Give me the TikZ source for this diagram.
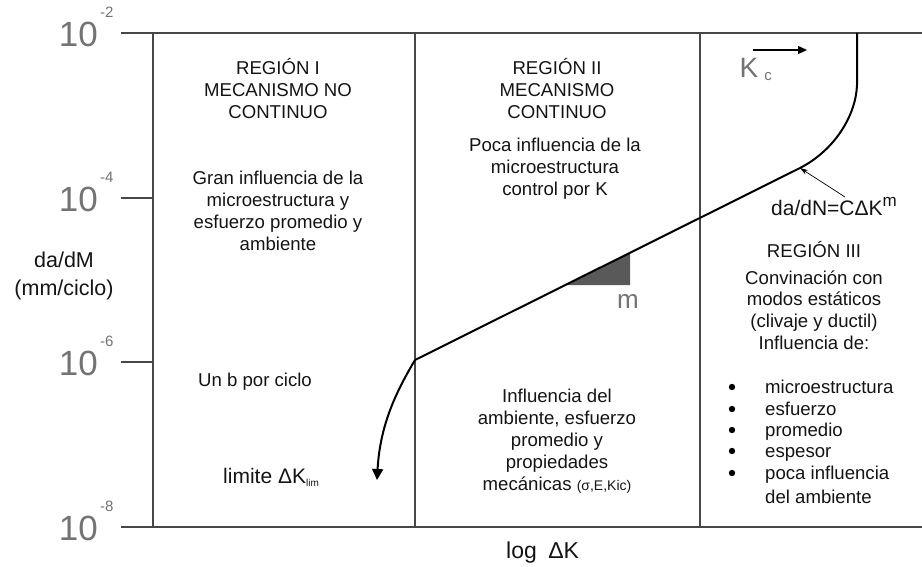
\documentclass[tikz,border=0pt]{standalone}
\usepackage{fontspec}
\setmainfont{Liberation Sans}
\usetikzlibrary{arrows.meta}
\begin{document}
\begin{tikzpicture}[x=1pt,y=-1pt,line join=round,
  frame/.style={draw=black!72,line width=1.4pt},
  curve/.style={draw=black,line width=2pt},
  txt/.style={font=\fontsize{18.6}{22}\selectfont,text=black!92,align=center,inner sep=0pt},
  ax/.style={font=\fontsize{35}{35}\selectfont,text=black!55,inner sep=0pt},
  axexp/.style={font=\fontsize{15}{15}\selectfont,text=black!55,inner sep=0pt},
  item/.style={font=\fontsize{18.6}{22}\selectfont,text=black!92,anchor=base west,inner sep=0pt}]
\useasboundingbox (0,0) rectangle (922,567);
% frame
\draw[frame] (121,33) -- (922,33);
\draw[frame] (121,527) -- (922,527);
\draw[frame] (153,33) -- (153,527);
\draw[frame] (121,198) -- (153,198);
\draw[frame] (121,362) -- (153,362);
\draw[frame] (415,33) -- (415,527);
\draw[frame] (700,33) -- (700,527);
% axis labels
\foreach \y/\e in {33/2,198/4,362/6,527/8}{
  \node[ax,anchor=east] (ten\e) at (98,\y+1) {10};
  \node[axexp,anchor=west] (exp\e) at (100,\y-21) {-\e};
}
\node[txt,font=\fontsize{21.5}{28}\selectfont] (ylab) at (64,276) {da/dM\\(mm/ciclo)};
\node[font=\fontsize{23}{23}\selectfont,anchor=base west,inner sep=0pt,text=black!92] (xlab) at (506,558) {log\enspace ΔK};
% region texts
\node[txt] (r1t) at (278,89) {REGIÓN I\\MECANISMO NO\\CONTINUO};
\node[txt] (r1b) at (278,211) {Gran influencia de la\\microestructura y\\esfuerzo promedio y\\ambiente};
\node[txt] (r2t) at (557,89) {REGIÓN II\\MECANISMO\\CONTINUO};
\node[txt] (r2b) at (555,169) {Poca influencia de la\\microestructura\\control por K};
\node[txt] (un) at (255,382) {Un b por ciclo};
\node[txt] (r2c) at (557,441) {Influencia del\\ambiente, esfuerzo\\promedio y\\propiedades\\mecánicas {\fontsize{14}{14}\selectfont(σ,E,Kic)}};
\node[txt] (r3h) at (814,250) {REGIÓN III};
\node[txt,font=\fontsize{18.6}{21.7}\selectfont] (r3t) at (814,310) {Convinación con\\modos estáticos\\(clivaje y ductil)\\Influencia de:};
\foreach \y/\t [count=\i] in {387/microestructura,409/esfuerzo,430/promedio,451/espesor,473/poca influencia}{
  \fill (732,\y) circle (3.2);
  \node[item] (it\i) at (765,\y+6.5) {\t};
}
\node[item] (it6) at (765,503.5) {del ambiente};
\node[font=\fontsize{21}{24}\selectfont,anchor=base west,inner sep=0pt,text=black!92] (lim) at (223,483) {limite ΔK\raisebox{-3pt}{\fontsize{10}{10}\selectfont lim}};
% curve
\coordinate (kink) at (415,360);
\coordinate (tip) at (377,480);
\coordinate (p3) at (800,168);
\coordinate (top) at (857,33);
\fill[black!65] (565,285.2) -- (630,252.8) -- (630,285.2) -- cycle;
\draw[curve,-{Triangle[length=11pt,width=11pt]}] (kink) .. controls (396,392) and (380,425) .. (tip);
\draw[curve] (kink) -- (p3) .. controls (835,150) and (856,115) .. (857,85) -- (top);
\node[ax,font=\fontsize{26}{26}\selectfont] (mlab) at (628,302) {m};
% law
\node[font=\fontsize{21}{21}\selectfont,anchor=base west,inner sep=0pt,text=black!92] (law) at (771,215) {da/dN=CΔK\raisebox{9pt}{\fontsize{17}{17}\selectfont m}};
\coordinate (lawtail) at (845,197);
\draw[-{Stealth[length=8pt,width=5pt]},line width=0.7pt] (lawtail) -- (p3);
% Kc
\coordinate (kca) at (753,50);
\coordinate (kcb) at (807,50);
\draw[-{Triangle[length=9pt,width=8pt]},line width=1.3pt] (kca) -- (kcb);
\node[ax,font=\fontsize{28}{28}\selectfont] (K) at (749,68) {K};
\node[axexp] (c) at (768,77) {c};
\end{tikzpicture}
\end{document}
